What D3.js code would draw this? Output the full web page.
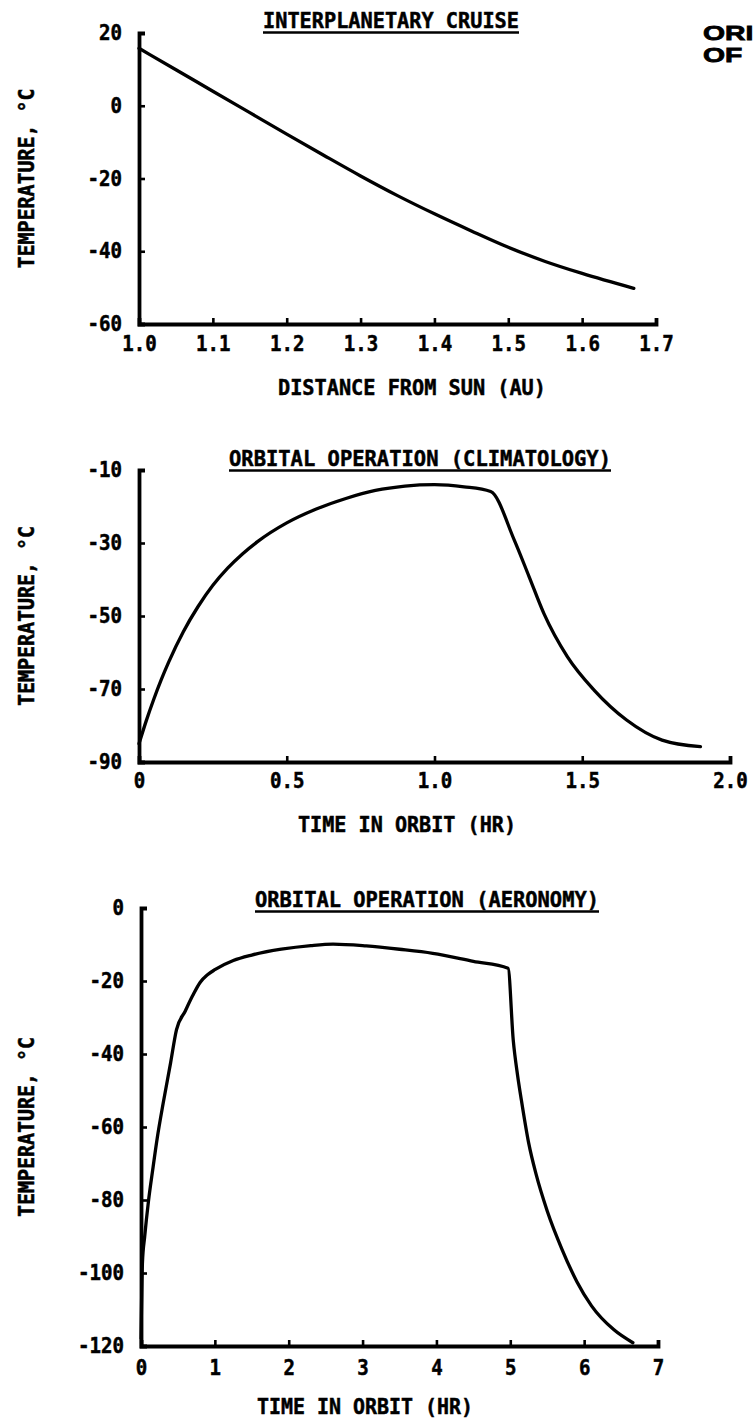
<!DOCTYPE html>
<html>
<head>
<meta charset="utf-8">
<script src="https://cdn.jsdelivr.net/npm/d3@7"></script>
<style>
  html, body { margin: 0; padding: 0; background: #fff; }
  svg { display: block; }
  .mono { font-family: "DejaVu Sans Mono", monospace; font-weight: bold; fill: #000; stroke: #000; stroke-width: 0.5; }
  .tick text { font-family: "DejaVu Sans Mono", monospace; font-weight: bold; font-size: 21px; fill: #000; stroke: #000; stroke-width: 0.5; }
  .stamp { font-family: "Liberation Sans", Arial, sans-serif; font-weight: bold; font-size: 21px; fill: #000; stroke: #000; stroke-width: 0.8; }
</style>
</head>
<body>
<svg id="chart" width="753" height="1424"></svg>
<script>
// Interplanetary cruise: temperature vs. distance from the Sun
const cruiseAU   = [1.0, 1.05, 1.1, 1.15, 1.2, 1.25, 1.3, 1.35, 1.4, 1.45, 1.5, 1.55, 1.6, 1.67];
const cruiseTemp = [15.8, 9.9, 4.0, -1.9, -7.8, -13.6, -19.3, -24.7, -29.7, -34.4, -38.9, -42.8, -46.1, -50.2];
const cruiseXTicks = [1.0, 1.1, 1.2, 1.3, 1.4, 1.5, 1.6, 1.7];
const cruiseXLabels = ["1.0", "1.1", "1.2", "1.3", "1.4", "1.5", "1.6", "1.7"];
const cruiseYTicks = [20, 0, -20, -40, -60];

// Orbital operation, climatology orbit
const climHr   = [0, 0.025, 0.05, 0.075, 0.1, 0.15, 0.2, 0.25, 0.3, 0.35, 0.4, 0.5, 0.6, 0.7, 0.8, 0.9, 1.0, 1.1, 1.19, 1.27, 1.32, 1.37, 1.45, 1.54, 1.65, 1.77, 1.9];
const climTemp = [-85, -78.6, -72.8, -67.5, -62.7, -54.3, -47.4, -41.6, -36.9, -33.0, -29.7, -24.5, -20.7, -17.8, -15.6, -14.4, -14.0, -14.6, -15.9, -29.2, -39.2, -49.3, -61.2, -70.3, -78.5, -84.0, -85.8];
const climXTicks = [0, 0.5, 1.0, 1.5, 2.0];
const climXLabels = ["0", "0.5", "1.0", "1.5", "2.0"];
const climYTicks = [-10, -30, -50, -70, -90];

// Orbital operation, aeronomy orbit
const aeroHr   = [0, 0.02, 0.05, 0.1, 0.16, 0.22, 0.3, 0.4, 0.48, 0.6, 0.7, 0.8, 0.9, 1.0, 1.25, 1.5, 1.9, 2.3, 2.6, 3.05, 3.5, 3.95, 4.5, 4.97, 5.04, 5.1, 5.15, 5.25, 5.35, 5.5, 5.7, 5.9, 6.1, 6.4, 6.66];
const aeroTemp = [-118, -97, -90, -80.5, -71.5, -63, -53.5, -42.5, -33.4, -28.2, -24.0, -20.4, -18.3, -16.9, -14.4, -12.9, -11.3, -10.3, -9.9, -10.4, -11.3, -12.4, -14.6, -16.5, -36.2, -46, -52.6, -64.5, -73.0, -83.0, -93.5, -102.3, -109, -115.5, -119.1];
const aeroXTicks = [0, 1, 2, 3, 4, 5, 6, 7];
const aeroXLabels = ["0", "1", "2", "3", "4", "5", "6", "7"];
const aeroYTicks = [0, -20, -40, -60, -80, -100, -120];

const yAxisTitle = "TEMPERATURE, °C";

const svg = d3.select("#chart");

// squeeze the monospaced type to the narrow typewriter proportions
function squeeze(sel, perChar) {
  sel.each(function () {
    const n = this.textContent.length;
    d3.select(this).attr("textLength", n * perChar).attr("lengthAdjust", "spacingAndGlyphs");
  });
}

function label(g, txt, width, attrs) {
  const t = g.append("text").attr("class", "mono").attr("font-size", 22)
    .attr("text-anchor", "middle")
    .attr("textLength", width).attr("lengthAdjust", "spacingAndGlyphs")
    .text(txt);
  Object.entries(attrs).forEach(([k, v]) => t.attr(k, v));
  return t;
}

function panel(o) {
  const x = d3.scaleLinear().domain(o.xDomain).range(o.xRange);
  const y = d3.scaleLinear().domain(o.yDomain).range(o.yRange);
  const g = svg.append("g");

  // temperature curve
  const pts = o.xs.map((v, i) => [v, o.ys[i]]);
  g.append("path")
    .datum(pts)
    .attr("fill", "none")
    .attr("stroke", "#000")
    .attr("stroke-width", 3.3)
    .attr("stroke-linejoin", "round")
    .attr("stroke-linecap", "round")
    .attr("d", d3.line().x(d => x(d[0])).y(d => y(d[1])).curve(d3.curveMonotoneX));

  // y axis, ticks pointing into the plot
  const yAx = g.append("g")
    .attr("transform", `translate(${o.xRange[0]},0)`)
    .call(d3.axisLeft(y).tickValues(o.yTicks).tickFormat(d => String(d))
      .tickSizeInner(-6).tickSizeOuter(-6).tickPadding(17));
  // x axis, ticks pointing up
  const xAx = g.append("g")
    .attr("transform", `translate(0,${o.yRange[0]})`)
    .call(d3.axisBottom(x).tickValues(o.xTicks).tickFormat((d, i) => o.xLabels[i])
      .tickSizeInner(-6).tickSizeOuter(-6).tickPadding(o.xPad));
  [yAx, xAx].forEach(a => {
    a.select(".domain").attr("stroke", "#000").attr("stroke-width", 3.8).attr("fill", "none");
    a.selectAll(".tick line").attr("stroke", "#000").attr("stroke-width", 2.6);
    a.selectAll("text").attr("font-family", null).attr("font-size", null);
    squeeze(a.selectAll("text"), 11.5);
  });

  // underlined title
  label(g, o.title, o.titleW, { x: o.titleX, y: o.titleY });
  g.append("line")
    .attr("x1", o.titleX - o.titleW / 2).attr("x2", o.titleX + o.titleW / 2)
    .attr("y1", o.titleY + 4.5).attr("y2", o.titleY + 4.5)
    .attr("stroke", "#000").attr("stroke-width", 2.4);

  // x axis title
  label(g, o.xTitle, o.xTitleW, { x: o.xTitleX, y: o.xTitleY });

  // y axis title
  const cy = (o.yRange[0] + o.yRange[1]) / 2;
  label(g, yAxisTitle, 180, { transform: `translate(34,${cy}) rotate(-90)` });
}

panel({
  xs: cruiseAU, ys: cruiseTemp,
  xDomain: [1.0, 1.7], xRange: [139, 656],
  yDomain: [-60, 20], yRange: [324, 33],
  xTicks: cruiseXTicks, xLabels: cruiseXLabels, yTicks: cruiseYTicks, xPad: 12,
  title: "INTERPLANETARY CRUISE", titleX: 391, titleY: 28, titleW: 256,
  xTitle: "DISTANCE FROM SUN (AU)", xTitleX: 412, xTitleY: 395, xTitleW: 268
});

panel({
  xs: climHr, ys: climTemp,
  xDomain: [0, 2], xRange: [139, 730],
  yDomain: [-90, -10], yRange: [762, 470],
  xTicks: climXTicks, xLabels: climXLabels, yTicks: climYTicks, xPad: 11,
  title: "ORBITAL OPERATION (CLIMATOLOGY)", titleX: 420, titleY: 466, titleW: 382,
  xTitle: "TIME IN ORBIT (HR)", xTitleX: 407, xTitleY: 832, xTitleW: 218
});

panel({
  xs: aeroHr, ys: aeroTemp,
  xDomain: [0, 7], xRange: [141, 658],
  yDomain: [-120, 0], yRange: [1346, 908],
  xTicks: aeroXTicks, xLabels: aeroXLabels, yTicks: aeroYTicks, xPad: 14,
  title: "ORBITAL OPERATION (AERONOMY)", titleX: 427, titleY: 907, titleW: 344,
  xTitle: "TIME IN ORBIT (HR)", xTitleX: 365, xTitleY: 1414, xTitleW: 216
});

// page stamp in the upper right corner
svg.append("text").attr("class", "stamp")
  .attr("transform", "translate(703,40) scale(1.35,1)").text("ORI");
svg.append("text").attr("class", "stamp")
  .attr("transform", "translate(703,62) scale(1.35,1)").text("OF");
</script>
</body>
</html>
